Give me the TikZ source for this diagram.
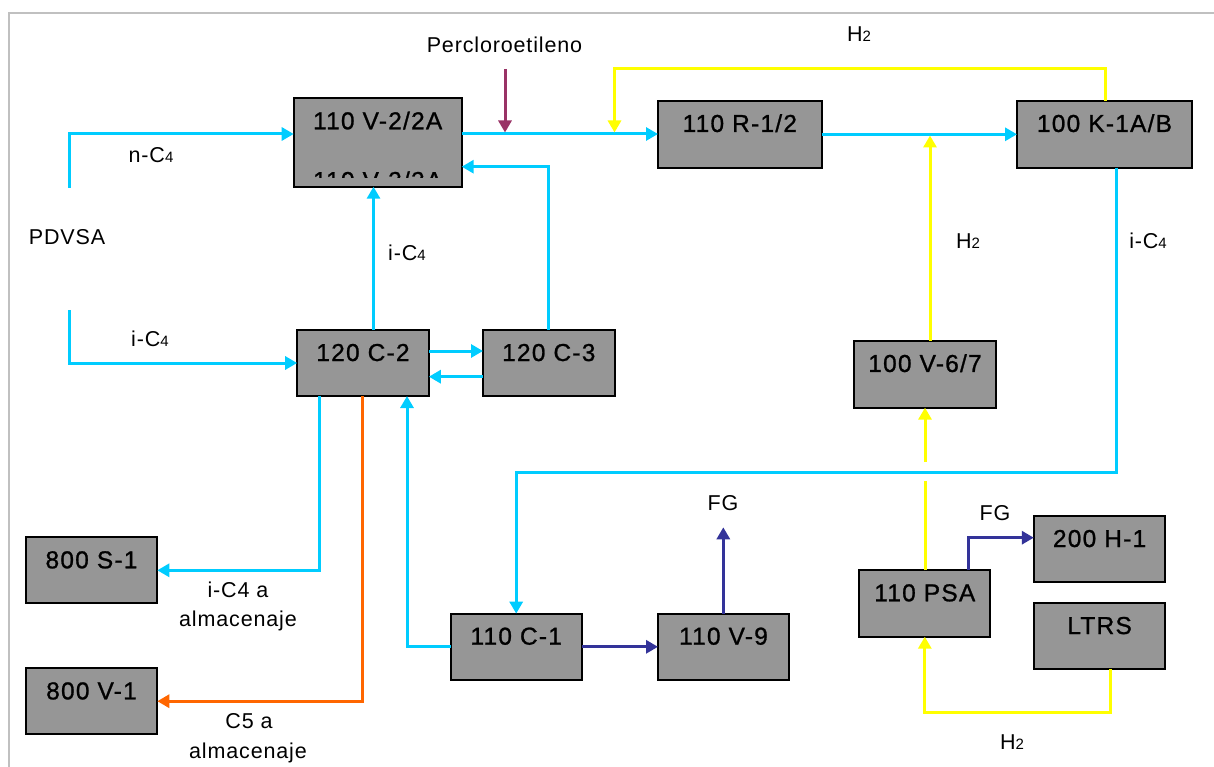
\documentclass[tikz,border=0pt]{standalone}
\usepackage{fontspec}
\setmainfont{Liberation Sans}[LetterSpace=4]
\newfontfamily\boxfont{Liberation Sans}[LetterSpace=5,FakeBold=1]
\usetikzlibrary{arrows.meta,calc}
\definecolor{cy}{HTML}{00CCFF}
\definecolor{yl}{HTML}{FFFF00}
\definecolor{pu}{HTML}{993366}
\definecolor{og}{HTML}{FF6600}
\definecolor{nv}{HTML}{333399}
\definecolor{bgr}{HTML}{969696}
\definecolor{fr}{HTML}{C0C0C0}
\newcommand\sbx[1]{{\fontsize{15}{15}\selectfont #1}}
\begin{document}
\begin{tikzpicture}[x=1pt,y=-1pt,
 box/.style={draw=black,line width=2pt,fill=bgr,inner sep=0pt,outer sep=0pt},
 btxt/.style={anchor=base,inner sep=0pt,font=\boxfont\fontsize{24.5}{29}\selectfont},
 lbl/.style={anchor=base,inner sep=0pt,font=\fontsize{21.5}{30}\selectfont},
 flow/.style={line width=3pt,-{Triangle[length=12pt,width=13pt]}},
 pline/.style={line width=3pt},
 ]
\useasboundingbox (0,0) rectangle (1214,767);
\draw[fr,line width=2pt] (8.7,767) -- (8.7,13.3) -- (1214,13.3);

% boxes
\node[box,minimum width=168pt,minimum height=88.4pt] (v2) at (377.7,142.5) {};
\node[box,minimum width=163.6pt,minimum height=66.7pt] (r1) at (739.8,134.3) {};
\node[box,minimum width=175pt,minimum height=66.7pt] (k1) at (1104.5,134.3) {};
\node[box,minimum width=131.7pt,minimum height=66pt] (c2) at (363,363) {};
\node[box,minimum width=131.6pt,minimum height=66pt] (c3) at (548.8,363) {};
\node[box,minimum width=142.5pt,minimum height=66.7pt] (v6) at (925,374.3) {};
\node[box,minimum width=131.6pt,minimum height=66pt] (s1) at (91.5,570.3) {};
\node[box,minimum width=131.6pt,minimum height=65.7pt] (v1) at (91.5,701.2) {};
\node[box,minimum width=131.2pt,minimum height=66.3pt] (c1) at (516.2,646.8) {};
\node[box,minimum width=131pt,minimum height=66.3pt] (v9) at (723.5,646.8) {};
\node[box,minimum width=131.2pt,minimum height=66.4pt] (psa) at (924.8,603.5) {};
\node[box,minimum width=131.6pt,minimum height=66pt] (h1) at (1099.6,549) {};
\node[box,minimum width=131.6pt,minimum height=66pt] (ltrs) at (1099.6,636) {};

% box texts
\node[btxt] (v2t) at ([yshift=-31pt]v2.north) {110 V-2/2A};
\begin{scope}
\clip (293.7,98.3) rectangle (461.7,177.5);
\node[btxt] (v2u) at ([yshift=-90.7pt]v2.north) {110 V-3/3A};
\end{scope}
\node[btxt] (r1t) at ([yshift=-31pt]r1.north) {110 R-1/2};
\node[btxt] (k1t) at ([yshift=-31pt]k1.north) {100 K-1A/B};
\node[btxt] (c2t) at ([yshift=-31pt]c2.north) {120 C-2};
\node[btxt] (c3t) at ([yshift=-31pt]c3.north) {120 C-3};
\node[btxt] (v6t) at ([yshift=-31pt]v6.north) {100 V-6/7};
\node[btxt] (s1t) at ([yshift=-31pt]s1.north) {800 S-1};
\node[btxt] (v1t) at ([yshift=-31pt]v1.north) {800 V-1};
\node[btxt] (c1t) at ([yshift=-31pt]c1.north) {110 C-1};
\node[btxt] (v9t) at ([yshift=-31pt]v9.north) {110 V-9};
\node[btxt] (psat) at ([yshift=-31pt]psa.north) {110 PSA};
\node[btxt] (h1t) at ([yshift=-31pt]h1.north) {200 H-1};
\node[btxt] (ltrst) at ([yshift=-31pt]ltrs.north) {LTRS};

% coordinates
\coordinate (ym) at (0,134);
\coordinate (pdn) at (69,188);
\coordinate (pdi) at (69,310);
\coordinate (pc) at (505,69);
\coordinate (yk) at (1105,69);
\coordinate (yl1) at (614.5,69);
\coordinate (x930) at (930,0);
\coordinate (ck) at (1116,472.3);
\coordinate (x373) at (373.5,0);
\coordinate (c3r) at (548.6,166.7);
\coordinate (y351) at (0,351);
\coordinate (y377) at (0,376.7);
\coordinate (xs) at (319.4,0);
\coordinate (xo) at (362.8,0);
\coordinate (xr) at (407,0);
\coordinate (fg1) at (723.3,527.3);
\coordinate (g1) at (925,480.7);
\coordinate (g2) at (925,461.7);
\coordinate (fp) at (968,537.7);
\coordinate (ly) at (1110.6,712.7);

% connectors
\draw[cy,flow] (pdn) |- (v2.west |- ym);
\draw[cy,flow] (v2.east |- ym) -- (r1.west |- ym);
\draw[pu,flow,shorten >=1.5pt] (pc) -- (pc |- ym);
\draw[yl,flow,shorten >=1.5pt] (k1.north -| yk) -- (yk) -- (yl1) -- (yl1 |- ym);
\draw[cy,flow] (r1.east) -- (k1.west);
\draw[yl,flow,shorten >=1.5pt] (v6.north -| x930) -- (x930 |- ym);
\draw[cy,flow] (k1.south -| ck) -- (ck) -- (c1.north |- ck) -- (c1.north);
\draw[cy,flow] (c2.north -| x373) -- (v2.south -| x373);
\draw[cy,flow] (c3.north) |- (v2.east |- c3r);
\draw[cy,flow] (c2.east |- y351) -- (c3.west |- y351);
\draw[cy,flow] (c3.west |- y377) -- (c2.east |- y377);
\draw[cy,flow] (pdi) |- (c2.west);
\draw[cy,flow] (c2.south -| xs) |- (s1.east);
\draw[og,flow] (c2.south -| xo) |- (v1.east);
\draw[cy,flow] (c1.west) -| (c2.south -| xr);
\draw[nv,flow] (c1.east) -- (v9.west);
\draw[nv,flow] (v9.north -| fg1) -- (fg1);
\draw[yl,pline] (psa.north -| g1) -- (g1);
\draw[yl,flow] (g2) -- (v6.south -| g2);
\draw[nv,flow] (psa.north -| fp) -- (fp) -- (h1.west |- fp);
\draw[yl,flow] (ltrs.south -| ly) -- (ly) -- (psa.south |- ly) -- (psa.south);

% labels
\node[lbl] (tpc) at (504.5,52.7) {Percloroetileno};
\node[lbl] (th2a) at (859,41.7) {H\sbx{2}};
\node[lbl] (tnc4) at (151,162.7) {n-C\sbx{4}};
\node[lbl] (tpd) at (67,244) {PDVSA};
\node[lbl] (tic4a) at (407,260) {i-C\sbx{4}};
\node[lbl] (tic4b) at (150,346.7) {i-C\sbx{4}};
\node[lbl] (th2b) at (968,248.3) {H\sbx{2}};
\node[lbl] (tic4c) at (1148,248.3) {i-C\sbx{4}};
\node[lbl] (tsto1) at (238,597.7) {i-C4 a};
\node[lbl] (tsto1b) at (238,626.7) {almacenaje};
\node[lbl] (tsto2) at (249,728.3) {C5 a};
\node[lbl] (tsto2b) at (248,758.3) {almacenaje};
\node[lbl] (tfg1) at (723,510) {FG};
\node[lbl] (tfg2) at (995,520.7) {FG};
\node[lbl] (th2c) at (1012,749.3) {H\sbx{2}};
\end{tikzpicture}
\end{document}
